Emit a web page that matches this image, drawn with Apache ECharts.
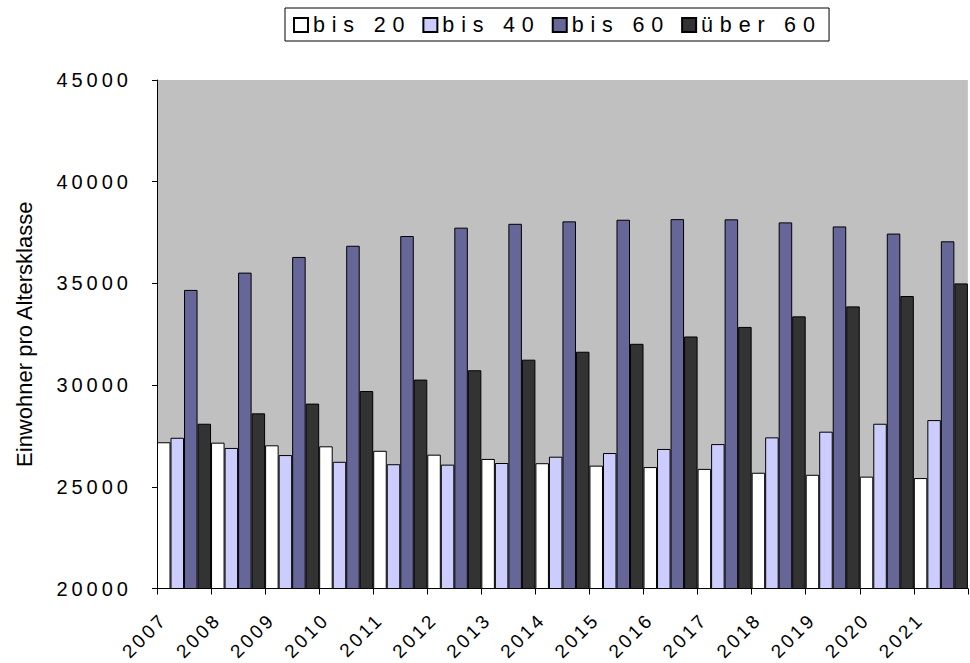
<!DOCTYPE html>
<html>
<head>
<meta charset="utf-8">
<script src="https://cdn.jsdelivr.net/npm/echarts@6/dist/echarts.min.js"></script>
<style>
  html, body { margin: 0; padding: 0; background: #fff; }
  #main { width: 970px; height: 663px; }
  /* Excel-style gesperrte Schrift: y-Achse 20px, x-Achse 19px, Legende 21.5px */
  #main text[style*="20px"] { letter-spacing: 4px; }
  #main text[style*="19px"] { letter-spacing: 3px; }
  #main text[style*="21.5px"] { letter-spacing: 6.8px; }
</style>
</head>
<body>
<div id="main"></div>
<script>
// Jahre (Kategorien)
const years = ['2007', '2008', '2009', '2010', '2011', '2012', '2013', '2014',
  '2015', '2016', '2017', '2018', '2019', '2020', '2021']
// Einwohner je Altersklasse
const bis20 = [27190, 27170, 27040, 26990, 26770, 26580, 26370, 26160,
  26040, 25970, 25880, 25690, 25590, 25500, 25430]
const bis40 = [27410, 26910, 26560, 26230, 26110, 26090, 26170, 26480,
  26660, 26860, 27100, 27430, 27710, 28100, 28280]
const bis60 = [34680, 35530, 36300, 36850, 37330, 37740, 37930, 38050,
  38130, 38160, 38150, 38000, 37800, 37450, 37070]
const ueber60 = [28100, 28610, 29090, 29710, 30270, 30730, 31250, 31640,
  32030, 32390, 32860, 33380, 33870, 34380, 35000]
const seriesNames = ['bis 20', 'bis 40', 'bis 60', 'über 60']
const seriesColors = ['#FFFFFF', '#CCCCFF', '#666699', '#333333']
const yMin = 20000
const yMax = 45000
const yStep = 5000

const font = "'Liberation Sans', Arial, sans-serif"

const myChart = echarts.init(document.getElementById('main'), null, { renderer: 'svg' })

const seriesData = [bis20, bis40, bis60, ueber60]
const series = seriesNames.map((name, i) => ({
  name: name,
  type: 'bar',
  xAxisIndex: 0,
  data: seriesData[i],
  barGap: '0%',
  barCategoryGap: '0%',
  itemStyle: {
    color: seriesColors[i],
    borderColor: '#000',
    borderWidth: 1
  }
}))

const option = {
  animation: false,
  backgroundColor: '#fff',
  legend: {
    data: seriesNames,
    left: 285,
    top: 8,
    orient: 'horizontal',
    padding: [6, 55, 5, 8],
    itemWidth: 14,
    itemHeight: 14,
    itemGap: 52,
    icon: 'rect',
    borderColor: '#000',
    borderWidth: 1,
    textStyle: {
      fontFamily: font,
      fontSize: 21.5,
      color: '#000'
    }
  },
  grid: {
    show: true,
    left: 157,
    top: 80,
    right: -8,
    bottom: 74.5,
    backgroundColor: '#C0C0C0',
    borderWidth: 0
  },
  xAxis: [
    {
      type: 'category',
      data: years,
      boundaryGap: true,
      position: 'bottom',
      axisLine: { onZero: false, lineStyle: { color: '#000', width: 1 } },
      axisTick: { show: true, length: 6, lineStyle: { color: '#000' } },
      axisLabel: { show: false },
      splitLine: { show: false }
    },
    {
      // Beschriftung an den Kategoriegrenzen wie im Original
      type: 'category',
      data: years.concat(['']),
      boundaryGap: false,
      position: 'bottom',
      axisLine: { show: false, onZero: false },
      axisTick: { show: false },
      splitLine: { show: false },
      axisLabel: {
        interval: 0,
        rotate: 45,
        margin: 21,
        verticalAlign: 'top',
        fontFamily: font,
        fontSize: 19,
        color: '#000'
      }
    }
  ],
  yAxis: {
    type: 'value',
    min: yMin,
    max: yMax,
    interval: yStep,
    name: 'Einwohner pro Altersklasse',
    nameLocation: 'middle',
    nameGap: 122,
    nameTextStyle: {
      fontFamily: font,
      fontSize: 22,
      color: '#000'
    },
    axisLine: { show: true, lineStyle: { color: '#000', width: 1 } },
    axisTick: { show: true, length: 5, lineStyle: { color: '#000' } },
    splitLine: { show: false },
    axisLabel: {
      margin: 25,
      formatter: (v) => String(v),
      fontFamily: font,
      fontSize: 20,
      color: '#000'
    }
  },
  series: series
}
option && myChart.setOption(option)
</script>
</body>
</html>
